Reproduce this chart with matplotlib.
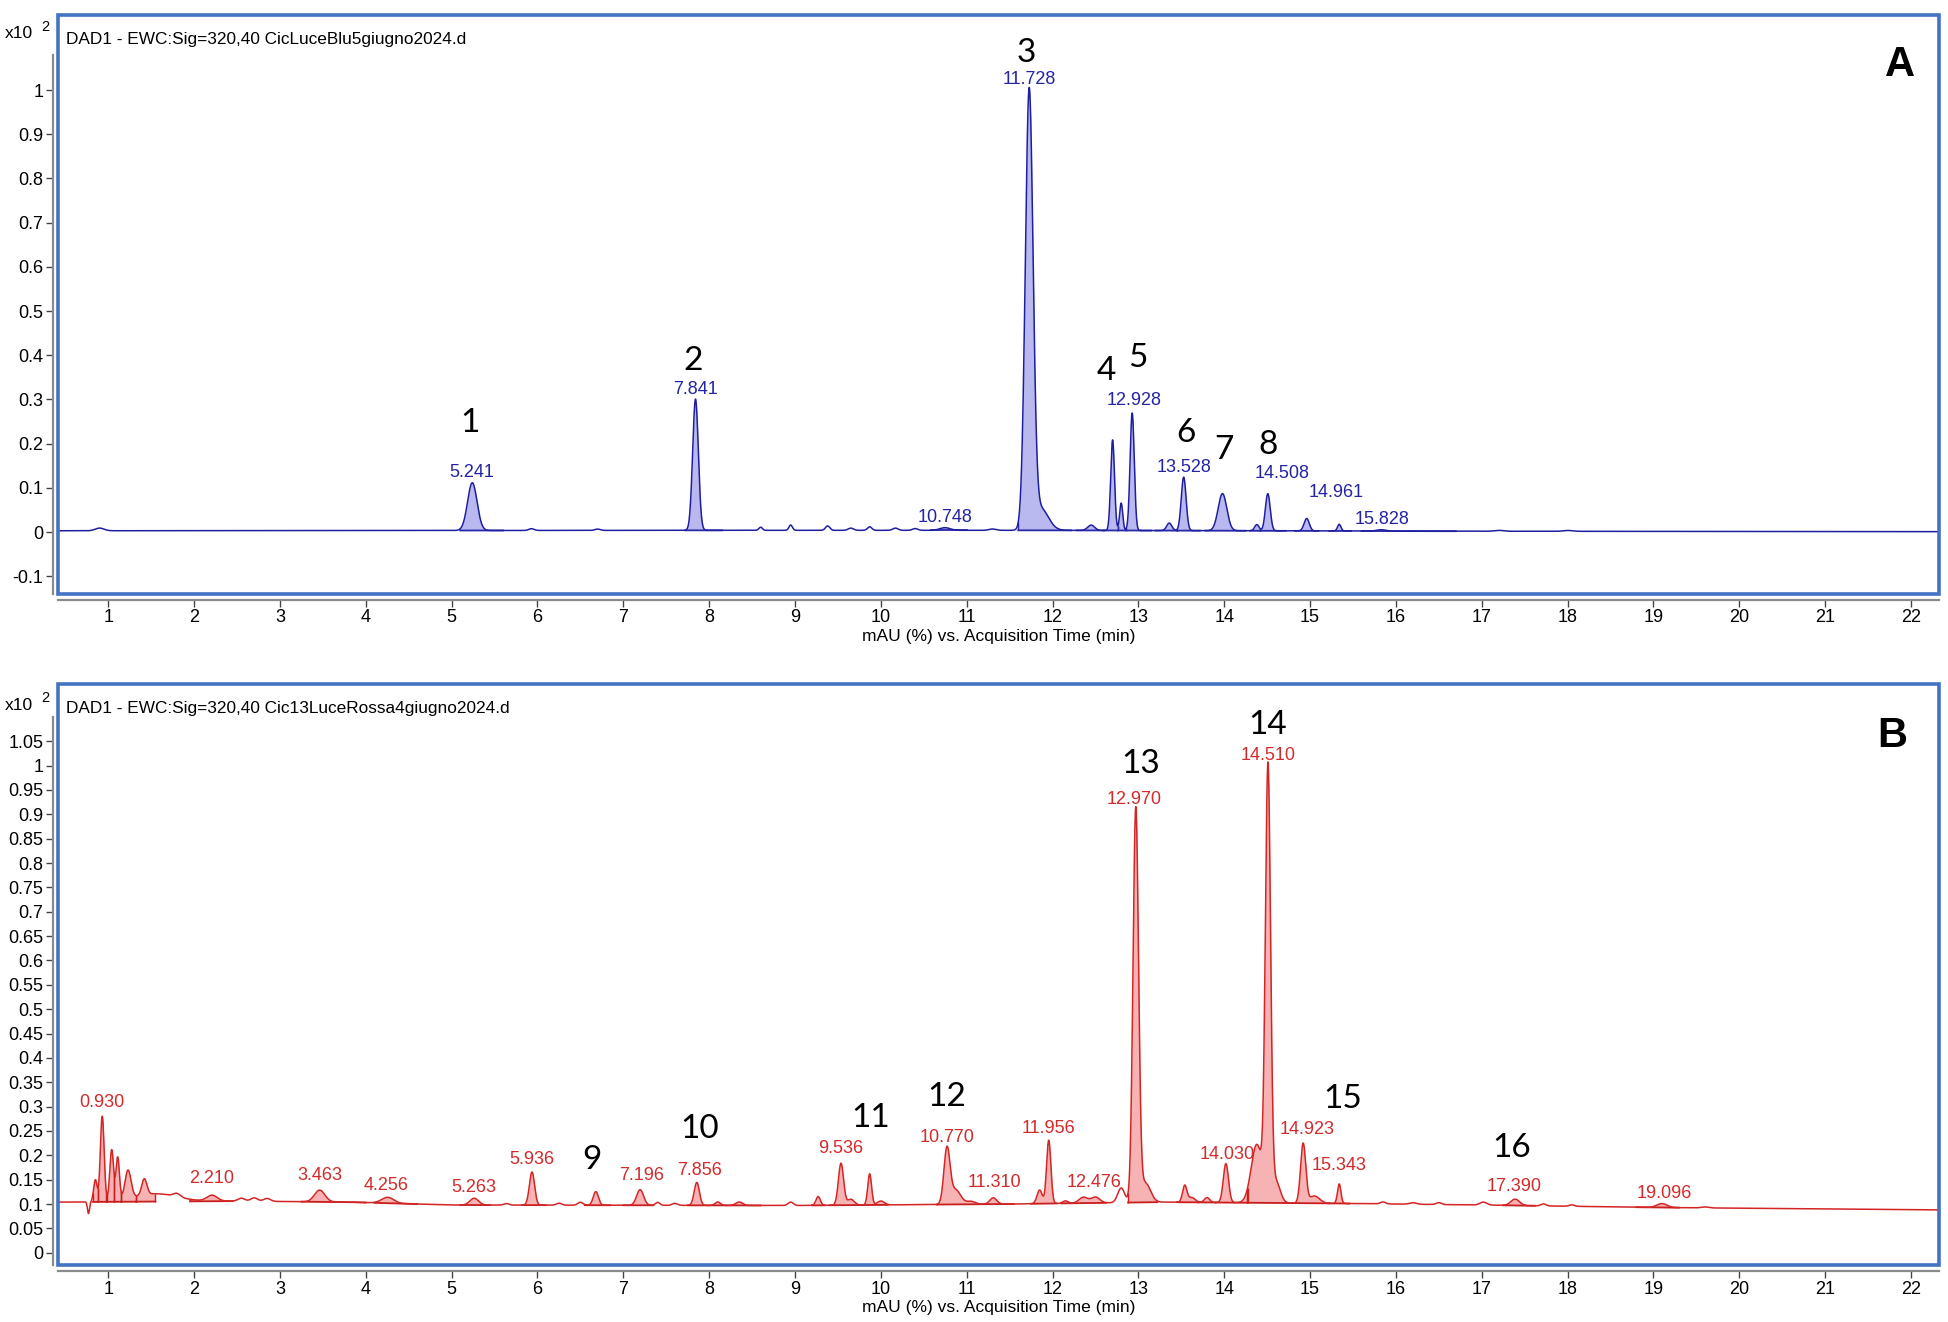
import matplotlib.pyplot as plt
import numpy as np
from matplotlib.patches import Rectangle

# ---------------- panel A (blue light) ----------------
a_rt = [0.90, 5.241, 5.93, 6.70, 7.841, 8.60, 8.95, 9.38, 9.65, 9.87, 10.17, 10.40,
        10.748, 11.30, 11.728, 11.86, 12.45, 12.70, 12.80, 12.928, 13.36, 13.528,
        13.98, 14.38, 14.508, 14.961, 15.34, 15.828, 17.20, 18.00]
a_height = [0.006, 0.108, 0.004, 0.003, 0.297, 0.007, 0.012, 0.010, 0.005, 0.008, 0.005, 0.004,
            0.006, 0.003, 0.985, 0.050, 0.012, 0.205, 0.062, 0.266, 0.017, 0.121,
            0.084, 0.014, 0.084, 0.028, 0.015, 0.003, 0.002, 0.002]
a_width = [0.05, 0.055, 0.03, 0.03, 0.033, 0.02, 0.02, 0.025, 0.03, 0.025, 0.03, 0.03,
           0.06, 0.04, 0.045, 0.09, 0.04, 0.022, 0.018, 0.024, 0.03, 0.028,
           0.05, 0.025, 0.028, 0.03, 0.02, 0.05, 0.05, 0.05]
a_base_t = [0.42, 8.0, 12.0, 16.7, 22.33]
a_base_v = [0.003, 0.004, 0.004, 0.002, 0.001]
a_windows = [(5.10, 5.60), (7.72, 8.15), (10.58, 11.0), (11.60, 12.22), (12.28, 12.60),
             (12.60, 12.76), (12.76, 12.86), (12.86, 13.15), (13.20, 13.45), (13.45, 13.72),
             (13.78, 14.25), (14.30, 14.42), (14.42, 14.72), (14.82, 15.10), (15.22, 15.48),
             (15.60, 16.70)]
a_rt_labels = ['5.241', '7.841', '10.748', '11.728', '12.928', '13.528', '14.508', '14.961', '15.828']
a_rt_label_x = [5.24, 7.84, 10.75, 11.73, 12.95, 13.53, 14.68, 15.31, 15.84]
a_rt_label_y = [0.135, 0.323, 0.034, 1.025, 0.298, 0.146, 0.132, 0.090, 0.028]
a_num_labels = ['1', '2', '3', '4', '5', '6', '7', '8']
a_num_x = [5.21, 7.81, 11.70, 12.63, 12.99, 13.55, 14.00, 14.51]
a_num_y = [0.247, 0.388, 1.084, 0.365, 0.393, 0.225, 0.185, 0.197]
a_yticks = [-0.1, 0, 0.1, 0.2, 0.3, 0.4, 0.5, 0.6, 0.7, 0.8, 0.9, 1.0]

# ---------------- panel B (red light) ----------------
b_rt = [0.77, 0.85, 0.93, 1.04, 1.11, 1.23, 1.42, 1.55, 1.80, 2.21, 2.55, 2.70, 2.85,
        3.463, 4.256, 5.263, 5.64, 5.936, 6.25, 6.50, 6.68, 7.196, 7.40, 7.60, 7.856,
        8.10, 8.35, 8.95, 9.27, 9.536, 9.65, 9.87, 10.00, 10.77, 10.87, 11.05, 11.31,
        11.85, 11.956, 12.15, 12.36, 12.50, 12.80, 12.97, 13.08, 13.54, 13.62, 13.80,
        14.02, 14.38, 14.51, 14.60, 14.92, 15.05, 15.34, 15.85, 16.20, 16.50, 17.02,
        17.39, 17.72, 18.05, 19.10, 19.60]
b_height = [-0.024, 0.045, 0.175, 0.105, 0.088, 0.058, 0.033, 0.016, 0.007, 0.012, 0.006,
            0.007, 0.006, 0.024, 0.012, 0.014, 0.003, 0.068, 0.004, 0.006, 0.028, 0.032,
            0.006, 0.004, 0.047, 0.007, 0.007, 0.007, 0.018, 0.086, 0.012, 0.064, 0.008,
            0.112, 0.030, 0.006, 0.013, 0.028, 0.130, 0.005, 0.012, 0.012, 0.030, 0.805,
            0.040, 0.034, 0.010, 0.010, 0.080, 0.120, 0.880, 0.045, 0.122, 0.015, 0.040,
            0.004, 0.003, 0.004, 0.006, 0.013, 0.004, 0.003, 0.008, 0.002]
b_width = [0.012, 0.02, 0.022, 0.022, 0.02, 0.035, 0.03, 0.25, 0.04, 0.06, 0.04, 0.04, 0.04,
           0.06, 0.07, 0.05, 0.03, 0.03, 0.03, 0.03, 0.03, 0.04, 0.025, 0.03, 0.03,
           0.03, 0.04, 0.03, 0.025, 0.03, 0.04, 0.022, 0.04, 0.035, 0.06, 0.05, 0.04,
           0.03, 0.025, 0.03, 0.05, 0.05, 0.04, 0.032, 0.06, 0.025, 0.04, 0.03,
           0.03, 0.065, 0.03, 0.05, 0.03, 0.06, 0.02, 0.03, 0.04, 0.03, 0.04,
           0.05, 0.03, 0.03, 0.06, 0.04]
b_base_t = [0.42, 2.5, 3.8, 5.0, 9.0, 11.5, 13.3, 15.5, 17.0, 19.0, 22.33]
b_base_v = [0.104, 0.106, 0.104, 0.098, 0.097, 0.100, 0.104, 0.101, 0.098, 0.093, 0.088]
b_windows = [(0.82, 0.88), (0.88, 0.98), (0.98, 1.07), (1.07, 1.15), (1.15, 1.32), (1.32, 1.55),
             (1.95, 2.45), (3.25, 4.00), (4.10, 4.60), (5.10, 5.45), (5.82, 6.10), (6.55, 6.85),
             (7.00, 7.35), (7.75, 8.60), (9.20, 9.35), (9.40, 9.76), (9.76, 10.08),
             (10.65, 11.55), (11.75, 12.05), (12.10, 12.62), (12.88, 13.22), (13.45, 13.70),
             (13.70, 13.90), (13.90, 14.27), (14.27, 14.72), (14.72, 15.22), (15.22, 15.46),
             (17.25, 17.62), (18.80, 19.30)]
b_rt_labels = ['0.930', '2.210', '3.463', '4.256', '5.263', '5.936', '7.196', '7.856', '9.536',
               '10.770', '11.310', '11.956', '12.476', '12.970', '14.030', '14.510', '14.923',
               '15.343', '17.390', '19.096']
b_rt_label_x = [0.93, 2.20, 3.46, 4.24, 5.26, 5.94, 7.21, 7.89, 9.53, 10.77, 11.32, 11.95,
                12.48, 12.95, 14.03, 14.51, 14.97, 15.34, 17.38, 19.13]
b_rt_label_y = [0.309, 0.153, 0.158, 0.138, 0.133, 0.191, 0.158, 0.168, 0.214, 0.237, 0.145,
                0.255, 0.145, 0.931, 0.202, 1.020, 0.253, 0.179, 0.135, 0.122]
b_num_labels = ['9', '10', '11', '12', '13', '14', '15', '16']
b_num_x = [6.63, 7.89, 9.88, 10.77, 13.03, 14.51, 15.38, 17.35]
b_num_y = [0.191, 0.255, 0.276, 0.319, 1.003, 1.084, 0.316, 0.214]
b_yticks = [0, 0.05, 0.1, 0.15, 0.2, 0.25, 0.3, 0.35, 0.4, 0.45, 0.5, 0.55, 0.6, 0.65,
            0.7, 0.75, 0.8, 0.85, 0.9, 0.95, 1.0, 1.05]

X_MIN, X_MAX = 0.42, 22.33
BOX = '#4472c4'
AXIS_GREY = '#8a8a8a'
TICK_FONT = 'Liberation Sans'
NUM_FONT = 'Lato'


def trace(t, rts, heights, widths, base_t, base_v):
    y = np.interp(t, base_t, base_v)
    for rt, h, w in zip(rts, heights, widths):
        y = y + h * np.exp(-0.5 * ((t - rt) / w) ** 2)
    return y


def draw_panel(ax, t, y, windows, base_t, base_v, line_c, fill_c, edge_c):
    for t0, t1 in windows:
        m = (t >= t0) & (t <= t1)
        tt, yy = t[m], y[m]
        base = np.interp(tt, base_t, base_v)
        ax.fill_between(tt, base, yy, color=fill_c, lw=0, zorder=1)
        ax.plot(tt, base, color=edge_c, lw=1.3, zorder=2)
        ax.vlines([tt[0], tt[-1]], [base[0], base[-1]], [yy[0], yy[-1]], color=edge_c, lw=1.0, zorder=2)
    ax.plot(t, y, color=line_c, lw=1.1, zorder=3)


def style_axes(ax, yticks, ylim, ytop):
    ax.set_xlim(X_MIN, X_MAX)
    ax.set_ylim(*ylim)
    ax.set_xticks(range(1, 23))
    ax.set_yticks(yticks)
    ax.set_yticklabels(['{:g}'.format(v) for v in yticks])
    ax.spines['top'].set_visible(False)
    ax.spines['right'].set_visible(False)
    for side in ['left', 'bottom']:
        ax.spines[side].set_position(('outward', 4))
        ax.spines[side].set_color(AXIS_GREY)
        ax.spines[side].set_linewidth(1.6)
    ax.spines['left'].set_bounds(ylim[0], ytop)
    ax.tick_params(direction='out', length=5, width=1.0, color='#444444', labelsize=13, pad=2)
    for lab in ax.get_xticklabels() + ax.get_yticklabels():
        lab.set_fontfamily(TICK_FONT)
    ax.add_patch(Rectangle((0, 0), 1, 1, transform=ax.transAxes, fill=False, ec=BOX,
                           lw=2.6, clip_on=False, zorder=6))
    ax.set_xlabel('mAU (%) vs. Acquisition Time (min)', fontsize=12.5, family=TICK_FONT, labelpad=2)


fig = plt.figure(figsize=(19.49, 13.22), dpi=100)
ax_a = fig.add_axes([0.0300, 0.5507, 0.9650, 0.4380])
ax_b = fig.add_axes([0.0300, 0.0428, 0.9650, 0.4400])

t = np.linspace(X_MIN, X_MAX, 8000)

# panel A
y_a = trace(t, a_rt, a_height, a_width, a_base_t, a_base_v)
draw_panel(ax_a, t, y_a, a_windows, a_base_t, a_base_v, '#1e1ea0', '#b9b9f0', '#2a2aa8')
style_axes(ax_a, a_yticks, (-0.14, 1.17), 1.08)
for s, x, yv in zip(a_rt_labels, a_rt_label_x, a_rt_label_y):
    ax_a.text(x, yv, s, color='#2323a6', fontsize=13, family=TICK_FONT, ha='center', va='center')
for s, x, yv in zip(a_num_labels, a_num_x, a_num_y):
    ax_a.text(x, yv, s, color='black', fontsize=24, family=NUM_FONT, ha='center', va='center')
ax_a.text(21.87, 1.056, 'A', fontsize=30, fontweight='bold', family='Liberation Sans',
          ha='center', va='center')
ax_a.text(0.004, 0.958, 'DAD1 - EWC:Sig=320,40 CicLuceBlu5giugno2024.d', transform=ax_a.transAxes,
          fontsize=12.4, family=TICK_FONT, ha='left', va='center')

# panel B
y_b = trace(t, b_rt, b_height, b_width, b_base_t, b_base_v)
draw_panel(ax_b, t, y_b, b_windows, b_base_t, b_base_v, '#d42424', '#f7b3b3', '#c81e1e')
style_axes(ax_b, b_yticks, (-0.026, 1.168), 1.10)
for s, x, yv in zip(b_rt_labels, b_rt_label_x, b_rt_label_y):
    ax_b.text(x, yv, s, color='#d42a2a', fontsize=13, family=TICK_FONT, ha='center', va='center')
for s, x, yv in zip(b_num_labels, b_num_x, b_num_y):
    ax_b.text(x, yv, s, color='black', fontsize=24, family=NUM_FONT, ha='center', va='center')
ax_b.text(21.78, 1.061, 'B', fontsize=30, fontweight='bold', family='Liberation Sans',
          ha='center', va='center')
ax_b.text(0.004, 0.958, 'DAD1 - EWC:Sig=320,40 Cic13LuceRossa4giugno2024.d', transform=ax_b.transAxes,
          fontsize=12.4, family=TICK_FONT, ha='left', va='center')

# "x10 2" multiplier labels
for ypix in [34, 705]:
    yf = 1 - ypix / 1322
    fig.text(5 / 1949, yf, 'x10', fontsize=12.5, family=TICK_FONT, ha='left', va='center')
    fig.text(41 / 1949, yf + 0.005, '2', fontsize=10.5, family=TICK_FONT, ha='left', va='center')

fig.savefig('out.png', dpi=100)
